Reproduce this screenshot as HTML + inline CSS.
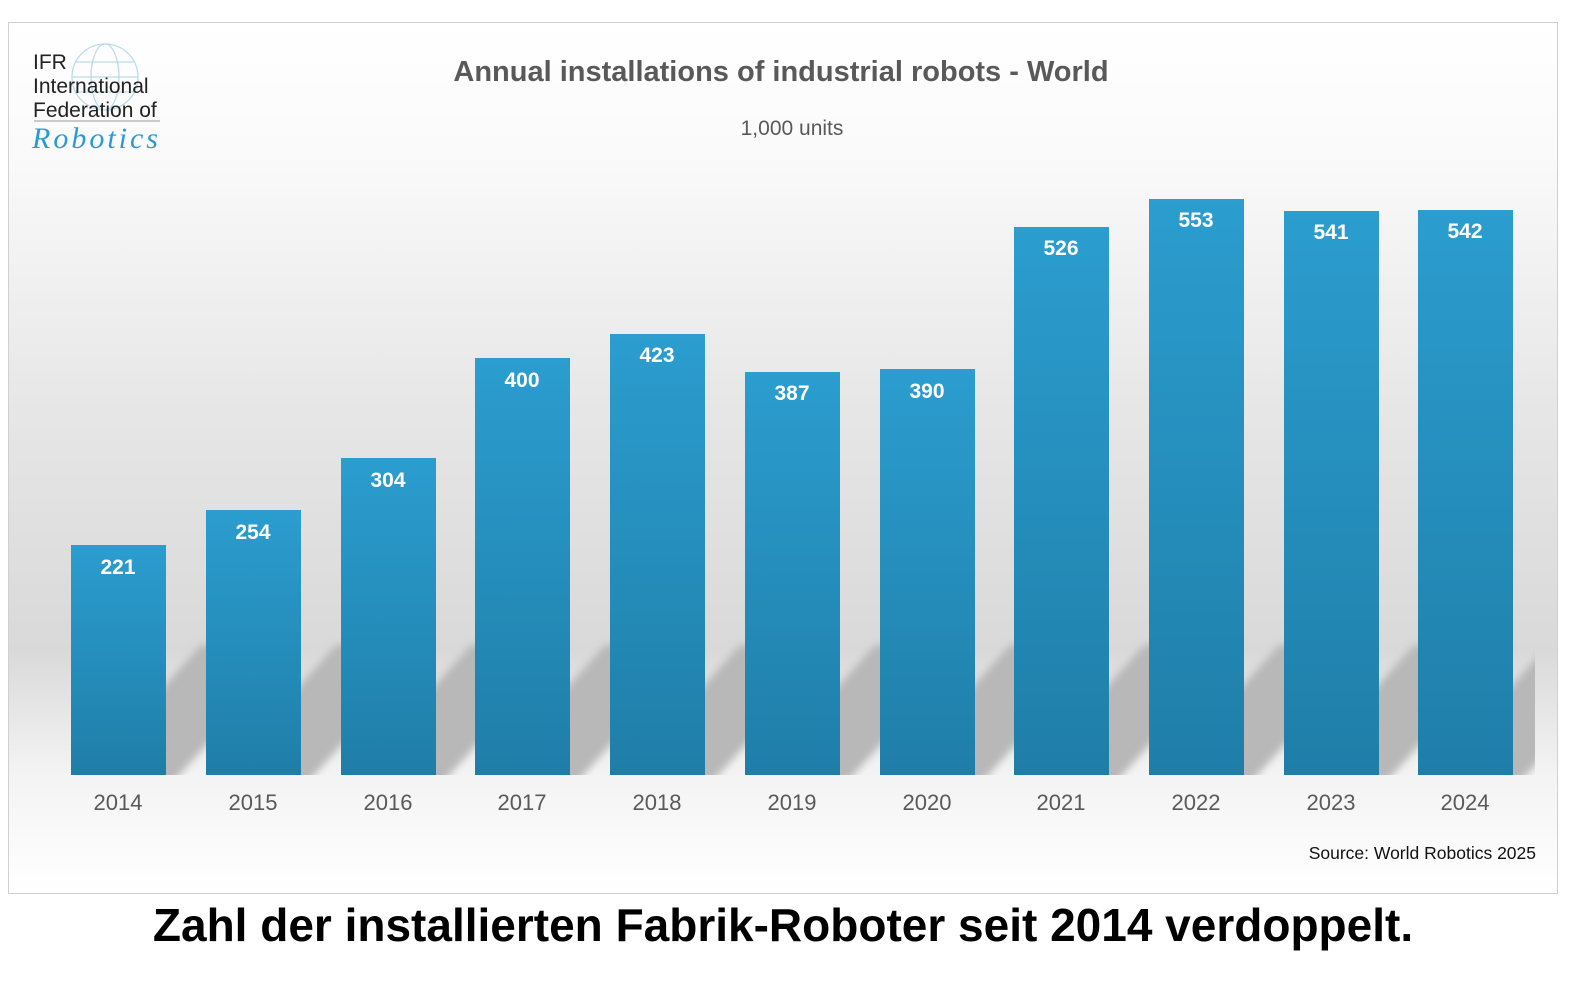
<!DOCTYPE html>
<html><head><meta charset="utf-8"><style>
body{margin:0;width:1578px;height:987px;background:#fff;overflow:hidden;font-family:"Liberation Sans",Arial,sans-serif}
</style></head><body>
<svg width="1578" height="987" xmlns="http://www.w3.org/2000/svg" style="position:absolute;left:0;top:0">
<defs>
<linearGradient id="bg" x1="0" y1="0" x2="0" y2="1">
<stop offset="0" stop-color="#ffffff"/>
<stop offset="0.15" stop-color="#fafafa"/>
<stop offset="0.45" stop-color="#e6e6e6"/>
<stop offset="0.72" stop-color="#d9d9d9"/>
<stop offset="0.86" stop-color="#f3f3f3"/>
<stop offset="1" stop-color="#ffffff"/>
</linearGradient>
<linearGradient id="bar" x1="0" y1="0" x2="0" y2="1">
<stop offset="0" stop-color="#2b9dcf"/>
<stop offset="1" stop-color="#1f7ea8"/>
</linearGradient>
<filter id="blur"><feGaussianBlur stdDeviation="4"/></filter>
<clipPath id="sc"><rect x="9" y="600" width="1526" height="175"/></clipPath>
</defs>
<rect x="8.5" y="22.5" width="1549" height="871" fill="url(#bg)" stroke="#d0d0d0"/>
<g clip-path="url(#sc)" filter="url(#blur)" fill="#b8b8b8">
<polygon points="71,790 166,790 296,645 201,645"/>
<polygon points="206,790 301,790 431,645 336,645"/>
<polygon points="341,790 436,790 566,645 471,645"/>
<polygon points="475,790 570,790 700,645 605,645"/>
<polygon points="610,790 705,790 835,645 740,645"/>
<polygon points="745,790 840,790 970,645 875,645"/>
<polygon points="880,790 975,790 1105,645 1010,645"/>
<polygon points="1014,790 1109,790 1239,645 1144,645"/>
<polygon points="1149,790 1244,790 1374,645 1279,645"/>
<polygon points="1284,790 1379,790 1509,645 1414,645"/>
<polygon points="1418,790 1513,790 1643,645 1548,645"/>
</g>
<g fill="url(#bar)">
<rect x="71" y="545" width="95" height="230"/>
<rect x="206" y="510" width="95" height="265"/>
<rect x="341" y="458" width="95" height="317"/>
<rect x="475" y="358" width="95" height="417"/>
<rect x="610" y="334" width="95" height="441"/>
<rect x="745" y="372" width="95" height="403"/>
<rect x="880" y="369" width="95" height="406"/>
<rect x="1014" y="227" width="95" height="548"/>
<rect x="1149" y="199" width="95" height="576"/>
<rect x="1284" y="211" width="95" height="564"/>
<rect x="1418" y="210" width="95" height="565"/>
</g>
<g fill="#fff" font-weight="bold" font-size="21" text-anchor="middle">
<text x="118" y="574">221</text><text x="253" y="539">254</text><text x="388" y="487">304</text>
<text x="522" y="387">400</text><text x="657" y="362">423</text><text x="792" y="400">387</text>
<text x="927" y="398">390</text><text x="1061" y="255">526</text><text x="1196" y="227">553</text>
<text x="1331" y="239">541</text><text x="1465" y="238">542</text>
</g>
<g fill="#595959" font-size="22" text-anchor="middle">
<text x="118" y="810">2014</text><text x="253" y="810">2015</text><text x="388" y="810">2016</text>
<text x="522" y="810">2017</text><text x="657" y="810">2018</text><text x="792" y="810">2019</text>
<text x="927" y="810">2020</text><text x="1061" y="810">2021</text><text x="1196" y="810">2022</text>
<text x="1331" y="810">2023</text><text x="1465" y="810">2024</text>
</g>
<text x="781" y="81" text-anchor="middle" font-size="29" font-weight="bold" fill="#595959">Annual installations of industrial robots - World</text>
<text x="792" y="135" text-anchor="middle" font-size="21" fill="#595959">1,000 units</text>
<text x="1536" y="859" text-anchor="end" font-size="17.5" fill="#111">Source: World Robotics 2025</text>
<g fill="none" stroke="#bcdbe8" stroke-width="1.3">
<circle cx="105" cy="77" r="33"/><ellipse cx="105" cy="77" rx="14" ry="33"/>
<line x1="72" y1="77" x2="138" y2="77"/><line x1="76" y1="62" x2="134" y2="62"/><line x1="76" y1="92" x2="134" y2="92"/>
</g>
<g font-size="21" fill="#222">
<text x="33" y="69">IFR</text><text x="33" y="93">International</text><text x="33" y="117">Federation of</text>
</g>
<line x1="34" y1="121" x2="160" y2="121" stroke="#999"/>
<text x="32" y="148" font-size="30" font-style="italic" fill="#2a9ad6" font-family="Liberation Serif,serif" letter-spacing="3">Robotics</text>
<text x="783" y="941" text-anchor="middle" font-size="46" font-weight="bold" fill="#000">Zahl der installierten Fabrik-Roboter seit 2014 verdoppelt.</text>
</svg>
</body></html>
